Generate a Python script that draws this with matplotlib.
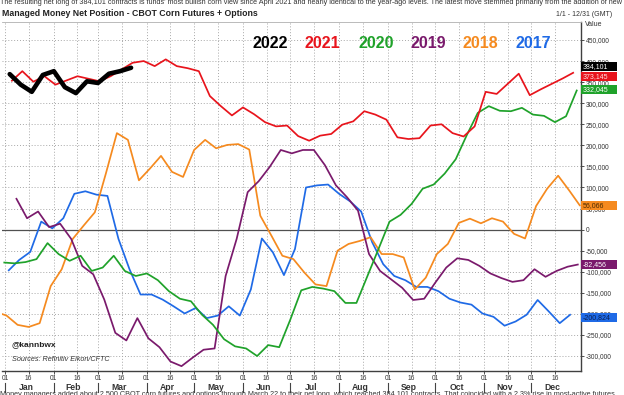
import numpy as np
import matplotlib
matplotlib.use('Agg')
import matplotlib.pyplot as plt
from matplotlib.patches import Rectangle
from matplotlib.ticker import FuncFormatter

plt.rcParams['font.family'] = ['Liberation Sans', 'DejaVu Sans']

# posicion neta semanal (miles de contratos)
# cada serie empieza en su primer martes (dia del año) y sigue de 7 en 7 dias
años = ['2017', '2018', '2019', '2020', '2021', '2022']
dia_inicio = {'2017': 2, '2018': -6, '2019': 7, '2020': -1, '2021': 4, '2022': 3}

pos_2022 = [369, 344, 327, 367, 376, 338, 324, 352, 348, 370, 376, 384.101]

pos_2021 = [352, 376, 351, 364, 344, 354, 364, 358, 352, 364, 380,
            396, 400, 388, 404, 388, 383, 376, 317, 293, 271,
            290, 274, 255, 245, 247, 222, 211, 223, 227, 249,
            257, 281, 273, 261, 219, 215, 217, 247, 250, 229, 221,
            245, 327, 322, 346, 370, 319, 333, 346, 359, 373.145]

pos_2020 = [-78, -80, -77, -70, -32, -58, -74, -62, -98, -90,
            -62, -98, -110, -104, -120, -146, -164, -170, -202, -226,
            -260, -277, -282, -300, -274, -279, -214, -144, -136, -140,
            -146, -174, -174, -110, -46, 19, 35, 61, 97, 107,
            133, 167, 224, 277, 293, 282, 281, 289, 273, 270,
            255, 269, 332.045]

pos_2019 = [75, 27, 43, 6, 14, -22, -86, -106, -166, -245,
            -263, -210, -258, -279, -313, -324, -304, -285, -282, -110,
            -22, 89, 115, 149, 189, 181, 189, 189, 153, 105,
            77, 45, -58, -98, -118, -138, -167, -164, -126, -90,
            -68, -72, -86, -104, -115, -124, -120, -94, -112, -98,
            -88, -82.456]

pos_2018 = [-195, -204, -226, -231, -222, -134, -94, -22, 10, 41, 133, 229,
            213, 117, 145, 175, 137, 125, 189, 213, 193, 201, 203,
            190, 33, -14, -62, -70, -102, -130, -134, -50, -34,
            -27, -18, -58, -58, -66, -142, -114, -58, -34, 16,
            26, 15, 27, 19, -10, -21, 56, 97, 128, 93, 56.066]

pos_2017 = [-98, -72, -53, 19, 3, 27, 85, 91, 83, 80,
            -22, -94, -154, -154, -166, -182, -199, -186, -210, -204,
            -182, -204, -142, -21, -54, -108, -46, 100, 105, 107,
            85, 67, 43, -30, -82, -110, -120, -136, -136, -146,
            -164, -173, -178, -199, -207, -228, -218, -202, -167, -194,
            -222, -200.824]

series = {'2017': pos_2017, '2018': pos_2018, '2019': pos_2019,
          '2020': pos_2020, '2021': pos_2021, '2022': pos_2022}
colores = {'2022': '#000000', '2021': '#e8141c', '2020': '#1fa22a',
           '2019': '#7a1a6c', '2018': '#f58a1f', '2017': '#1f6ae6'}
color_texto_tag = {'2022': 'white', '2021': '#ffe0e0', '2020': 'white',
                   '2019': 'white', '2018': '#4a2a00', '2017': '#0a2050'}

meses = ['Jan', 'Feb', 'Mar', 'Apr', 'May', 'Jun',
         'Jul', 'Aug', 'Sep', 'Oct', 'Nov', 'Dec']
dias_mes = [31, 28, 31, 30, 31, 30, 31, 31, 30, 31, 30, 31]
inicio_mes = np.concatenate(([0], np.cumsum(dias_mes)[:-1]))

W, H = 624, 395
fig = plt.figure(figsize=(W / 100, H / 100), dpi=100)
ax = fig.add_axes([2 / W, 1 - 371 / H, 579 / W, 349 / H])

for año in años:
    vals = np.array(series[año]) * 1000
    dias = dia_inicio[año] + 7 * np.arange(len(vals))
    if año == '2022':
        ax.plot(dias, vals, color=colores[año], lw=3.3, zorder=3,
                solid_joinstyle='round', solid_capstyle='round')
    else:
        ax.plot(dias, vals, color=colores[año], lw=1.25, zorder=3,
                solid_joinstyle='round', solid_capstyle='butt')

ax.set_xlim(-1.9, 365.5)
ax.set_ylim(-335500, 492700)

# ejes y rejilla
ticks_x = np.sort(np.concatenate((inicio_mes, inicio_mes + 15)))
etiq_x = ['01' if t in inicio_mes else '16' for t in ticks_x]
ax.set_xticks(ticks_x)
ax.set_xticklabels(etiq_x)
ax.set_yticks(np.arange(-300000, 450001, 50000))
ax.yaxis.set_major_formatter(FuncFormatter(lambda v, p: '{:,.0f}'.format(v)))
ax.yaxis.tick_right()
ax.tick_params(axis='x', length=2, width=0.6, pad=0.6, labelsize=4.8,
               colors='#333333')
ax.tick_params(axis='y', length=2.2, width=0.6, pad=1.4, labelsize=4.8,
               colors='#333333')
ax.grid(True, linestyle=(0, (1, 2)), color='#a8a8a8', linewidth=0.7)
ax.axhline(0, color='#505050', lw=0.9, zorder=2)
ax.spines['left'].set_visible(False)
ax.spines['top'].set_color('#b0b0b0')
ax.spines['top'].set_linewidth(0.6)
for lado in ('right', 'bottom'):
    ax.spines[lado].set_color('#404040')
    ax.spines[lado].set_linewidth(1.0)

# meses debajo de las marcas
trans_x = ax.get_xaxis_transform()
for ini, n, mes in zip(inicio_mes, dias_mes, meses):
    ax.text(ini + n / 2 - 2, -0.046, mes, transform=trans_x, ha='center',
            va='center', fontsize=6.2, fontweight='bold', color='#333333')
    ax.plot([ini, ini], [-0.034, -0.060], transform=trans_x, color='#444444',
            lw=0.8, clip_on=False)

# etiquetas de ultimo valor a la derecha
px = 828200 / 349
desplaz = {'2022': 1, '2021': -4, '2020': 0, '2018': 0, '2019': 0, '2017': -3}
trans_y = ax.get_yaxis_transform()
for año, d in desplaz.items():
    ultimo = series[año][-1] * 1000
    y = ultimo + d * px
    ax.add_patch(Rectangle((1.0, y - 4.5 * px), 36 / 579, 9 * px,
                           transform=trans_y, clip_on=False,
                           fc=colores[año], ec='none', zorder=6))
    ax.text(1.0 + 2 / 579, y, '{:,.0f}'.format(ultimo), transform=trans_y,
            ha='left', va='center', fontsize=5, color=color_texto_tag[año],
            zorder=7, clip_on=False)

# leyenda de años
for año, cx in zip(['2022', '2021', '2020', '2019', '2018', '2017'],
                   [270.5, 322, 376.5, 428.5, 480.5, 533.3]):
    fig.text(cx / W, 1 - 43 / H, año, ha='center', va='center',
             fontsize=11.5, fontweight='bold', color=colores[año])

fig.text(2 / W, 1 - 14 / H,
         'Managed Money Net Position - CBOT Corn Futures + Options',
         ha='left', va='center', fontsize=6.3, fontweight='bold', color='#222222',
         family=['Liberation Sans Narrow', 'Liberation Sans'])
fig.text(612 / W, 1 - 15 / H, '1/1 - 12/31 (GMT)', ha='right', va='center',
         fontsize=5, color='#333333')
fig.text(585 / W, 1 - 25 / H, 'Value', ha='left', va='center',
         fontsize=5, color='#333333')
fig.text(0, 1 - 2 / H,
         "The resulting net long of 384,101 contracts is funds' most bullish corn view "
         "since April 2021 and nearly identical to the year-ago levels. The latest move "
         "stemmed primarily from the addition of new longs",
         ha='left', va='center', fontsize=5.2, color='#333333')
fig.text(0, 1 - 394 / H,
         "Money managers added about 2,500 CBOT corn futures and options through March 22 "
         "to their net long, which reached 384,101 contracts. That coincided with a 2.3% "
         "rise in most-active futures",
         ha='left', va='center', fontsize=5.2, color='#333333')

ax.text(10 / 579, (371 - 345) / 349, '@kannbwx', transform=ax.transAxes,
        ha='left', va='center', fontsize=6, fontweight='bold', color='#222222')
ax.text(10 / 579, (371 - 359.5) / 349, 'Sources: Refinitiv Eikon/CFTC',
        transform=ax.transAxes, ha='left', va='center', fontsize=5.2,
        fontstyle='italic', color='#333333')

fig.savefig('out.png', dpi=100)
